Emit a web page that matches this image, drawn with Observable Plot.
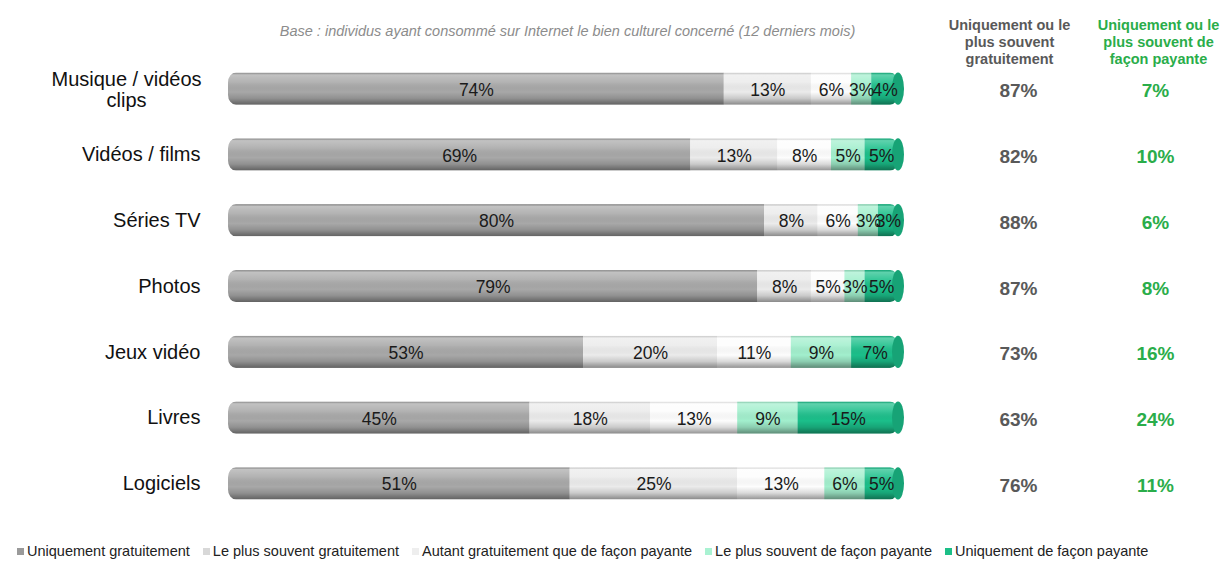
<!DOCTYPE html>
<html><head><meta charset="utf-8">
<script src="https://cdn.jsdelivr.net/npm/d3@7"></script>
<script src="https://cdn.jsdelivr.net/npm/@observablehq/plot@0.6"></script>
<style>
body{margin:0;background:#fff;font-family:"Liberation Sans",Arial,sans-serif;}
#legend{display:flex;align-items:center;height:26px;line-height:26px;padding-left:17px;font-size:14.5px;color:#222;white-space:nowrap;}
#legend .item{display:flex;align-items:center;margin-right:13px;}
#legend .sw{width:7px;height:7px;margin-right:3px;display:inline-block;}
</style></head><body>
<div id="chart"></div><div id="legend"></div>
<script>
const categories = ["Musique / vidéos\nclips","Vidéos / films","Séries TV","Photos","Jeux vidéo","Livres","Logiciels"];
const seriesNames = ["Uniquement gratuitement","Le plus souvent gratuitement","Autant gratuitement que de façon payante","Le plus souvent de façon payante","Uniquement de façon payante"];
const uniquementGratuit = [74,69,80,79,53,45,51];
const plusSouventGratuit = [13,13,8,8,20,18,25];
const autantGratuitPayant = [6,8,6,5,11,13,13];
const plusSouventPayant = [3,5,3,3,9,9,6];
const uniquementPayant = [4,5,3,5,7,15,5];
const totalGratuit = [87,82,88,87,73,63,76];
const totalPayant = [7,10,6,8,16,24,11];
const subtitle = "Base : individus ayant consommé sur Internet le bien culturel concerné (12 derniers mois)";
const headerGratuit = "Uniquement ou le\nplus souvent\ngratuitement";
const headerPayant = "Uniquement ou le\nplus souvent de\nfaçon payante";

const barColors = ["#a8a8a8","#ebebeb","#fdfdfd","#a2efcd","#1bbf8a"];
const legendColors = ["#9a9a9a","#d8d8d8","#eeeeee","#a9f2d2","#1cbf87"];

const seriesValues = [uniquementGratuit, plusSouventGratuit, autantGratuitPayant, plusSouventPayant, uniquementPayant];
const rows = [];
categories.forEach((cat, i) => seriesNames.forEach((s, k) => rows.push({cat, series: s, value: seriesValues[k][i]})));
const catRows = categories.map((cat, i) => ({
  cat, total: d3.sum(seriesValues, v => v[i]), gratuit: totalGratuit[i], payant: totalPayant[i]
}));
const singleLine = catRows.filter(d => !d.cat.includes("\n"));
const multiLine = catRows.filter(d => d.cat.includes("\n"));

const plot = Plot.plot({
  width: 1220, height: 538,
  marginLeft: 228, marginRight: 322, marginTop: 39, marginBottom: 5,
  x: {domain: [0, 100], axis: null},
  y: {domain: categories, padding: 0.51, round: false, axis: null},
  color: {domain: seriesNames, range: barColors},
  style: {fontFamily: "'Liberation Sans', Arial, sans-serif", background: "#fff"},
  marks: [
    Plot.barX(rows, Plot.stackX({x: "value", y: "cat", fill: "series"})),
    Plot.barX(catRows, {x: "total", y: "cat", fill: "url(#shine)"}),
    Plot.text(rows, Plot.stackX({x: "value", y: "cat", text: d => d.value + "%", fontSize: 17.5, fill: "#1a1a1a", dy: 1})),
    Plot.text(singleLine, {y: "cat", text: "cat", frameAnchor: "left", textAnchor: "end", dx: -28, fontSize: 20, fill: "#111"}),
    Plot.text(multiLine, {y: "cat", text: "cat", frameAnchor: "left", textAnchor: "middle", dx: -102, fontSize: 20, lineHeight: 1.05, fill: "#111", dy: 1}),
    Plot.text(catRows, {y: "cat", text: d => d.gratuit + "%", frameAnchor: "right", textAnchor: "middle", dx: 120, dy: 2, fontSize: 19, fontWeight: "bold", fill: "#595959"}),
    Plot.text(catRows, {y: "cat", text: d => d.payant + "%", frameAnchor: "right", textAnchor: "middle", dx: 257, dy: 2, fontSize: 19, fontWeight: "bold", fill: "#2aad4a"}),
    Plot.text([subtitle], {text: d => d, frameAnchor: "top", textAnchor: "middle", lineAnchor: "middle", dx: 4, dy: -8, fontSize: 14.5, fontStyle: "italic", fill: "#8c8c8c"}),
    Plot.text([headerGratuit], {text: d => d, frameAnchor: "top-right", textAnchor: "middle", lineAnchor: "middle", dx: 111, dy: 2, fontSize: 14.5, lineHeight: 1.17, fontWeight: "bold", fill: "#595959"}),
    Plot.text([headerPayant], {text: d => d, frameAnchor: "top-right", textAnchor: "middle", lineAnchor: "middle", dx: 260, dy: 2, fontSize: 14.5, lineHeight: 1.17, fontWeight: "bold", fill: "#2aad4a"})
  ]
});

// cylinder shading + rounded ends derived from the plot's own scales
const svg = d3.select(plot);
const xs = plot.scale("x"), ys = plot.scale("y");
const bw = ys.bandwidth;
const defs = svg.insert("defs", ":first-child");
const g = defs.append("linearGradient").attr("id", "shine").attr("x1", 0).attr("y1", 0).attr("x2", 0).attr("y2", 1);
[[0, "#000", 0.1], [0.07, "#fff", 0.3], [0.3, "#fff", 0.12], [0.6, "#000", 0], [0.8, "#000", 0.14], [1, "#000", 0.42]]
  .forEach(([o, c, a]) => g.append("stop").attr("offset", o).attr("stop-color", c).attr("stop-opacity", a));
const clip = defs.append("clipPath").attr("id", "rowclip");
catRows.forEach(d => {
  clip.append("rect").attr("x", xs.apply(0)).attr("y", ys.apply(d.cat)).attr("width", xs.apply(d.total) - xs.apply(0))
    .attr("height", bw).attr("rx", 8).attr("ry", 10);
});
svg.selectAll('g[aria-label="bar"]').attr("clip-path", "url(#rowclip)");
const capColor = d3.color(barColors[barColors.length - 1]).darker(0.45);
const caps = svg.append("g");
catRows.forEach(d => {
  caps.append("ellipse").attr("cx", xs.apply(d.total)).attr("cy", ys.apply(d.cat) + bw / 2)
    .attr("rx", 6).attr("ry", bw / 2).attr("fill", capColor);
});
svg.selectAll('g[aria-label="text"]').raise();

document.getElementById("chart").appendChild(plot);

const legend = d3.select("#legend");
seriesNames.forEach((s, k) => {
  const it = legend.append("span").attr("class", "item");
  it.append("span").attr("class", "sw").style("background", legendColors[k]);
  it.append("span").text(s);
});
</script>
</body></html>
